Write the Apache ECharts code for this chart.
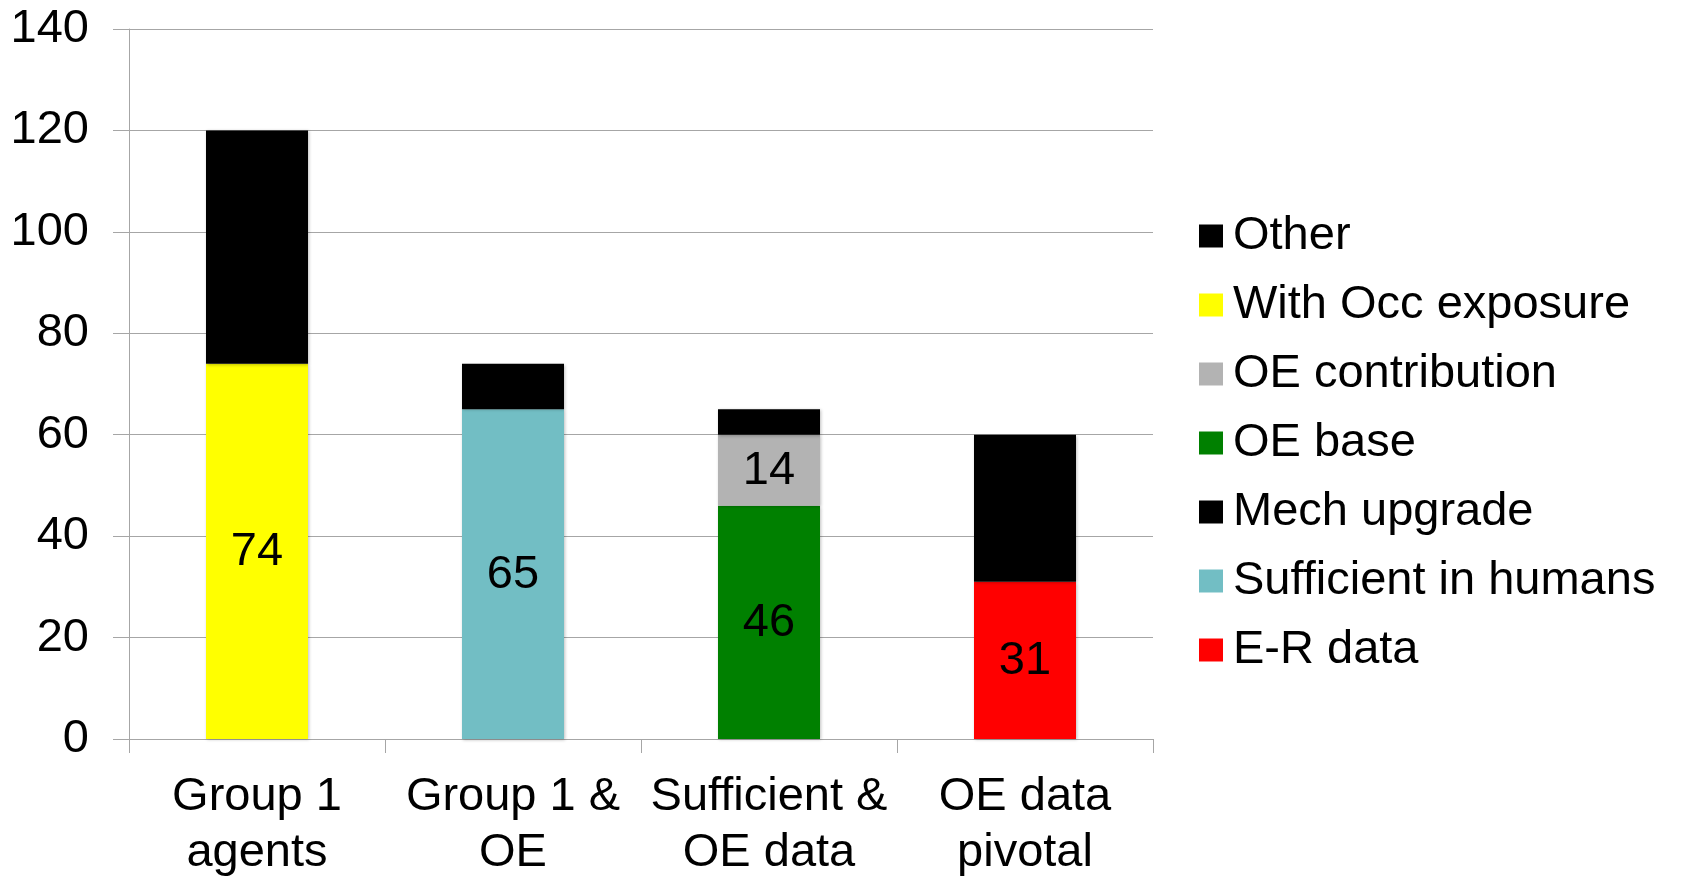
<!DOCTYPE html>
<html>
<head>
<meta charset="utf-8">
<script src="https://cdn.jsdelivr.net/npm/echarts@6/dist/echarts.min.js"></script>
<style>
  html, body { margin: 0; padding: 0; background: #ffffff; }
  #chart { width: 1686px; height: 881px; }
</style>
</head>
<body>
<div id="chart"></div>
<script>
// Categories along the x axis
const categories = ['Group 1\nagents', 'Group 1 &\nOE', 'Sufficient &\nOE data', 'OE data\npivotal'];

// Stacked segment values, bottom to top (null = segment absent)
const erData        = [null, null, null, 31];
const sufficient    = [null, 65, null, null];
const mechUpgrade   = [null, null, null, 29];
const oeBase        = [null, null, 46, null];
const oeContribution= [null, null, 14, null];
const withOcc       = [74, null, null, null];
const other         = [46, 9, 5, null];

// Y axis range
const yMin = 0, yMax = 140, yStep = 20;

const FONT = '"Liberation Sans", Arial, sans-serif';
const FS = 47;

const seriesDefs = [
  { name: 'E-R data',             data: erData,         color: '#FF0000', label: true },
  { name: 'Sufficient in humans', data: sufficient,     color: '#72BEC4', label: true },
  { name: 'Mech upgrade',         data: mechUpgrade,    color: '#000000', label: false },
  { name: 'OE base',              data: oeBase,         color: '#008000', label: true },
  { name: 'OE contribution',      data: oeContribution, color: '#B3B3B3', label: true },
  { name: 'With Occ exposure',    data: withOcc,        color: '#FFFF00', label: true },
  { name: 'Other',                data: other,          color: '#000000', label: false }
];

const series = seriesDefs.map(d => ({
  name: d.name,
  type: 'bar',
  stack: 'total',
  barWidth: 102,
  data: d.data,
  itemStyle: {
    color: d.color,
    shadowColor: 'rgba(0,0,0,0.25)',
    shadowBlur: 3,
    shadowOffsetX: 1,
    shadowOffsetY: 1
  },
  label: {
    show: d.label,
    position: 'inside',
    offset: [0, 1],
    color: '#000000',
    fontFamily: FONT,
    fontSize: FS
  },
  emphasis: { disabled: true },
  animation: false
}));

const chart = echarts.init(document.getElementById('chart'), null, { renderer: 'canvas' });
chart.setOption({
  backgroundColor: '#ffffff',
  animation: false,
  grid: { left: 129, right: 533, top: 29, bottom: 138, containLabel: false },
  legend: {
    orient: 'vertical',
    left: 1199,
    top: 211,
    padding: 0,
    icon: 'rect',
    itemWidth: 24,
    itemHeight: 23,
    itemGap: 19,
    data: seriesDefs.slice().reverse().map(d => d.name),
    textStyle: {
      color: '#000000',
      fontFamily: FONT,
      fontSize: FS,
      lineHeight: 50,
      padding: [0, 0, 0, 5]
    },
    selectedMode: false
  },
  xAxis: {
    type: 'category',
    data: categories,
    axisLine: { show: true, lineStyle: { color: '#A6A6A6', width: 1 } },
    axisTick: { show: true, length: 14, lineStyle: { color: '#A6A6A6', width: 1 } },
    axisLabel: {
      color: '#000000',
      fontFamily: FONT,
      fontSize: FS,
      lineHeight: 56,
      margin: 30,
      interval: 0
    }
  },
  yAxis: {
    type: 'value',
    min: yMin,
    max: yMax,
    interval: yStep,
    axisLine: { show: true, lineStyle: { color: '#A6A6A6', width: 1 } },
    axisTick: { show: true, length: 16, lineStyle: { color: '#A6A6A6', width: 1 } },
    splitLine: { show: true, lineStyle: { color: '#A6A6A6', width: 1 } },
    axisLabel: {
      color: '#000000',
      fontFamily: FONT,
      fontSize: FS,
      margin: 40
    }
  },
  series: series
});
</script>
</body>
</html>
